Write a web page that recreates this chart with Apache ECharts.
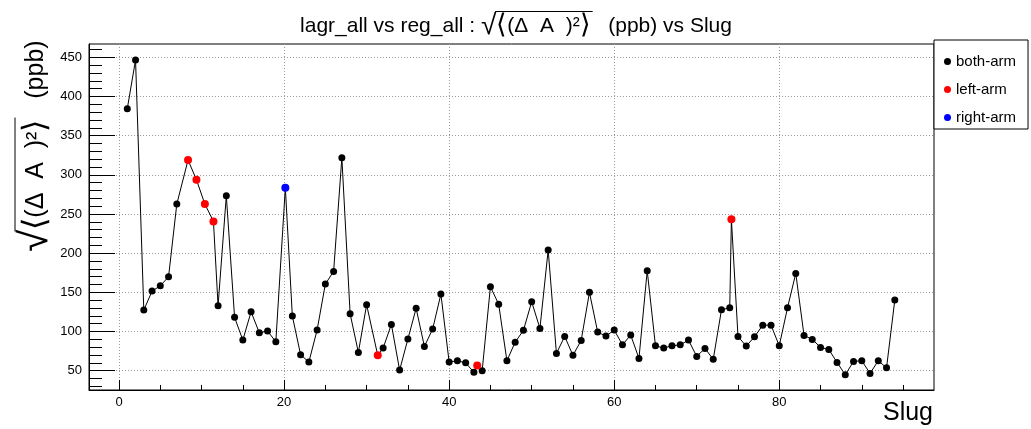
<!DOCTYPE html>
<html>
<head>
<meta charset="utf-8">
<script src="https://cdn.jsdelivr.net/npm/echarts@6/dist/echarts.min.js"></script>
<style>
html,body{margin:0;padding:0;background:#fff;}
#chart{width:1031px;height:429px;}
</style>
</head>
<body>
<div id="chart"></div>
<script>
// ---- data ----
const bothSlug = [1,2,3,4,5,6,7,12,13,14,15,16,17,18,19,21,22,23,24,25,26,27,28,29,30,
  32,33,34,35,36,37,38,39,40,41,42,43,44,45,46,47,48,49,50,51,52,53,54,55,56,57,58,59,60,
  61,62,63,64,65,66,67,68,69,70,71,72,73,74,75,76,77,78,79,80,81,82,83,84,85,86,87,88,89,
  90,91,92,93,94];
const bothVal = [384.4,446.6,127.4,151.6,158.4,169.9,262.7,132.9,273.3,118.1,89.1,125.2,98.4,100.6,86.9,
  119.7,70.5,61.0,101.9,160.6,176.8,321.8,122.7,73.4,134.2,
  78.9,109.1,50.8,90.4,129.6,81.0,103.1,147.8,61.0,62.7,60.1,47.9,49.9,157.1,135.0,62.7,86.5,101.5,138.0,
  104.0,204.0,72.1,93.8,69.6,88.7,150.0,99.3,94.2,101.9,
  83.1,95.5,65.7,177.6,81.8,79.0,81.8,83.0,89.1,68.3,78.5,64.5,127.8,130.3,93.8,81.4,93.3,108.2,108.2,
  81.8,130.3,174.2,95.1,90.0,79.8,77.2,60.6,44.8,61.9,62.7,46.6,62.7,53.7,140.2];
const leftSlug = [8.36,9.38,10.4,11.44,31.35,43.4,74.2];
const leftVal  = [318.9,293.7,262.7,240.6,69.6,56.8,243.2];
const rightSlug = [20.15];
const rightVal  = [283.5];

const xTicks = [0,20,40,60,80];
const yTicks = [50,100,150,200,250,300,350,400,450];
const xMinorTicks = [5,10,15,25,30,35,45,50,55,65,70,75,85,90,95];
const yMinorTicks = [];
for (let v = 30; v <= 460; v += 10) { if (v % 50 !== 0) yMinorTicks.push(v); }

const seriesNames = ['both-arm','left-arm','right-arm'];
const titlePre = 'lagr_all vs reg_all : ';
const radicand = '(Δ  A  )²';
const titlePost = '   (ppb) vs Slug';
const yPost = '   (ppb)';
const xName = 'Slug';

// ---- build ----
const pair = (xs, ys) => xs.map((x, i) => [x, ys[i]]);
const allPts = pair(bothSlug, bothVal).concat(pair(leftSlug, leftVal), pair(rightSlug, rightVal))
  .sort((a, b) => a[0] - b[0]);

const FONT = '"Liberation Sans", Arial, Helvetica, sans-serif';
const mctx = document.createElement('canvas').getContext('2d');
function tw(text, size) { mctx.font = size + 'px ' + FONT; return mctx.measureText(text).width; }

// title layout (rich text centred at TX)
const TX = 516, TY = 26, TS = 21, TR = 28, TB = 27;
const wPre = tw(titlePre, TS), wRad = tw('√', TR), wB = tw('⟨', TB), wIn = tw(radicand, TS), wPost = tw(titlePost, TS);
const tW = wPre + wRad + 2 * wB + wIn + wPost;
const tLeft = TX - tW / 2;
const tOver0 = tLeft + wPre + wRad * 0.92, tOver1 = tLeft + wPre + wRad + 2 * wB + wIn + 2;

// y title layout (rotated rich text centred at YX, YY, reading bottom to top)
const YX = 36, YY = 146, YS = 25, YR = 40, YB = 32;
const yRad = tw('√', YR), yB = tw('⟨', YB), yIn = tw(radicand, YS), yP = tw(yPost, YS);
const yW = yRad + 2 * yB + yIn + yP;
const yStart = YY + yW / 2;
const yOver0 = yStart - yRad * 0.92, yOver1 = yStart - yRad - 2 * yB - yIn - 2;

const chart = echarts.init(document.getElementById('chart'), null, {renderer: 'canvas'});
const gridLine = {show: true, lineStyle: {color: '#9a9a9a', type: [1, 2], width: 1}};

chart.setOption({
  animation: false,
  backgroundColor: '#fff',
  textStyle: {fontFamily: FONT},
  grid: {left: 89, right: 97, top: 44, bottom: 39, show: true, borderColor: '#000', borderWidth: 1, backgroundColor: 'transparent'},
  legend: {
    orient: 'vertical', left: 934, top: 40,
    data: [{name: seriesNames[0], icon: 'circle'}, {name: seriesNames[1], icon: 'circle'}, {name: seriesNames[2], icon: 'circle'}],
    itemWidth: 7, itemHeight: 7, itemGap: 13, itemTextGap: 7,
    padding: [14, 12, 4, 10],
    borderColor: '#000', borderWidth: 1, backgroundColor: '#fff',
    textStyle: {fontSize: 15, color: '#000', fontFamily: FONT},
    selectedMode: false
  },
  xAxis: [{
    type: 'value', min: -3.64, max: 98.75, position: 'bottom',
    axisLine: {show: true, onZero: false, lineStyle: {color: '#000', width: 1}},
    axisTick: {show: true, inside: true, length: 10, customValues: xTicks, lineStyle: {color: '#000'}},
    axisLabel: {show: true, customValues: xTicks, fontSize: 13, color: '#000', margin: 6, fontFamily: FONT},
    splitLine: gridLine
  }, {
    type: 'value', min: -3.64, max: 98.75, position: 'bottom',
    axisLine: {show: false, onZero: false},
    axisTick: {show: true, inside: true, length: 5, customValues: xMinorTicks, lineStyle: {color: '#000'}},
    axisLabel: {show: false},
    splitLine: {show: false}
  }],
  yAxis: [{
    type: 'value', min: 25.4, max: 467, position: 'left',
    axisLine: {show: true, onZero: false, lineStyle: {color: '#000', width: 1}},
    axisTick: {show: true, inside: true, length: 26, customValues: yTicks, lineStyle: {color: '#000'}},
    axisLabel: {show: true, customValues: yTicks, fontSize: 13, color: '#000', margin: 7, fontFamily: FONT},
    splitLine: gridLine
  }, {
    type: 'value', min: 25.4, max: 467, position: 'left',
    axisLine: {show: false, onZero: false},
    axisTick: {show: true, inside: true, length: 13, customValues: yMinorTicks, lineStyle: {color: '#000'}},
    axisLabel: {show: false},
    splitLine: {show: false}
  }],
  graphic: [
    {type: 'text', x: TX, y: TY, style: {
      text: '{t|' + titlePre + '}{r|√}{b|⟨}{t|' + radicand + '}{b|⟩}{t|' + titlePost + '}',
      fill: '#000', align: 'center', verticalAlign: 'middle',
      rich: {t: {fontSize: TS, fontFamily: FONT, fill: '#000'}, r: {fontSize: TR, fontFamily: FONT, fill: '#000'}, b: {fontSize: TB, fontFamily: FONT, fill: '#000'}}}},
    {type: 'line', shape: {x1: tOver0, y1: TY - 14.5, x2: tOver1, y2: TY - 14.5}, style: {stroke: '#000', lineWidth: 1}},
    {type: 'text', x: YX, y: YY, rotation: Math.PI / 2, style: {
      text: '{r|√}{b|⟨}{t|' + radicand + '}{b|⟩}{t|' + yPost + '}',
      fill: '#000', align: 'center', verticalAlign: 'middle',
      rich: {t: {fontSize: YS, fontFamily: FONT, fill: '#000'}, r: {fontSize: YR, fontFamily: FONT, fill: '#000'}, b: {fontSize: YB, fontFamily: FONT, fill: '#000'}}}},
    {type: 'line', shape: {x1: YX - 21, y1: yOver0, x2: YX - 21, y2: yOver1}, style: {stroke: '#000', lineWidth: 1}},
    {type: 'text', x: 933, y: 413, style: {text: xName, font: '25px ' + FONT, fill: '#000', align: 'right', verticalAlign: 'middle'}}
  ],
  series: [
    {name: 'line', type: 'line', data: allPts, showSymbol: false, symbol: 'none',
     lineStyle: {color: '#000', width: 1}, z: 2, silent: true},
    {name: seriesNames[0], type: 'scatter', data: pair(bothSlug, bothVal), symbol: 'circle', symbolSize: 7,
     itemStyle: {color: '#000', opacity: 1}, z: 3},
    {name: seriesNames[1], type: 'scatter', data: pair(leftSlug, leftVal), symbol: 'circle', symbolSize: 8,
     itemStyle: {color: '#ff0000', opacity: 1}, z: 3},
    {name: seriesNames[2], type: 'scatter', data: pair(rightSlug, rightVal), symbol: 'circle', symbolSize: 8,
     itemStyle: {color: '#0000ff', opacity: 1}, z: 3}
  ]
});
</script>
</body>
</html>
